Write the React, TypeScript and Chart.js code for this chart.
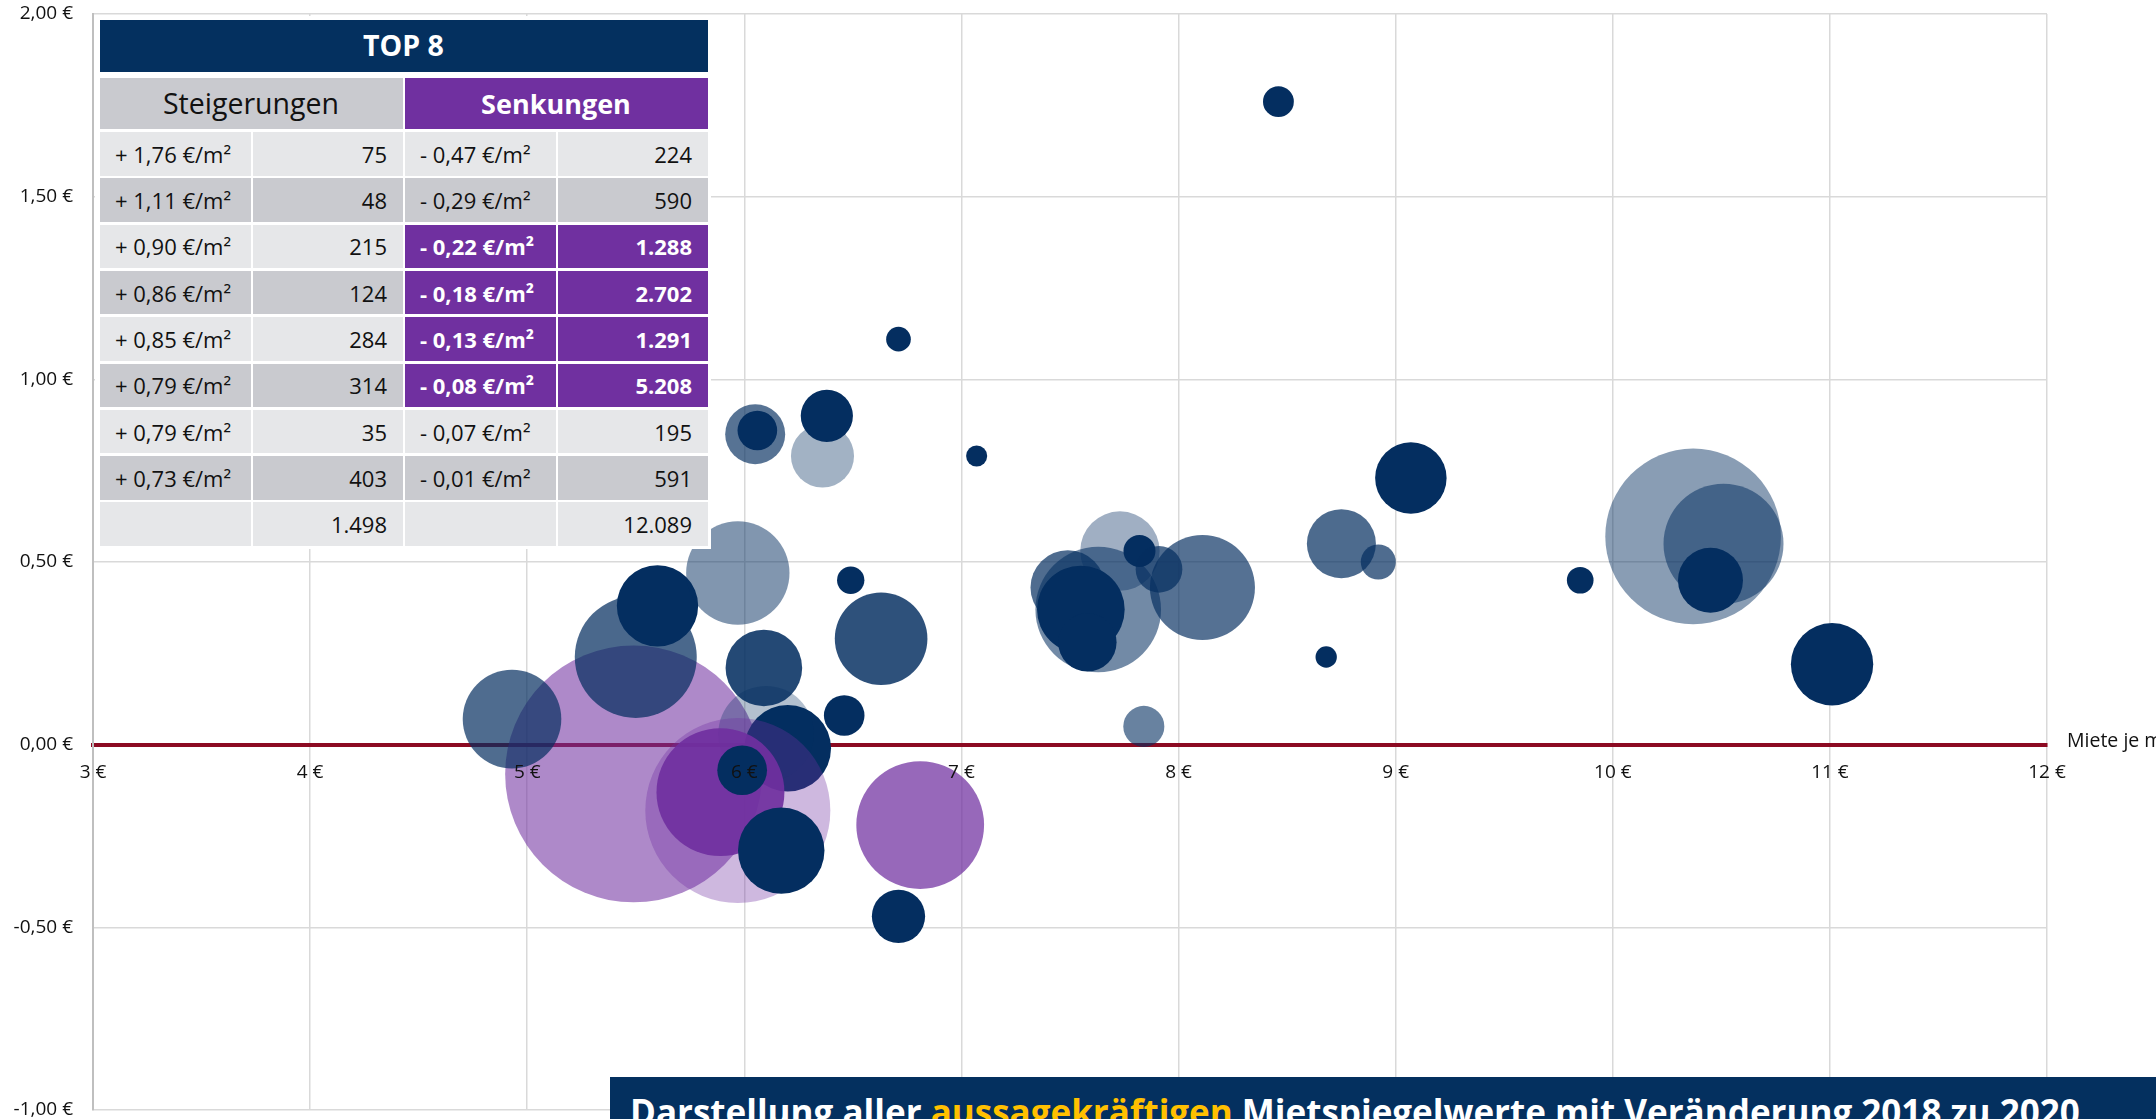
import React, { useEffect, useRef } from "react";
import { Chart, registerables } from "chart.js";

Chart.register(...registerables);

// ---------- Bubble data (Miete je m² / Veränderung 2018→2020 / Anzahl) ----------
const RENT = [
  5.49, 4.93, 5.50, 5.60, 5.97, 6.20, 6.09, 6.10, 5.97, 5.89,
  5.99, 6.17, 6.46, 6.49, 6.63, 6.81, 6.71, 6.05, 6.06, 6.36,
  6.38, 6.71, 7.07, 8.46, 7.73, 7.49, 7.63, 7.55, 7.58, 7.82,
  7.91, 8.11, 7.84, 8.75, 8.92, 8.68, 9.07, 9.85, 10.37, 10.51,
  10.45, 11.01,
];
const CHANGE = [
  -0.08, 0.07, 0.24, 0.38, 0.47, -0.01, 0.21, 0.03, -0.18, -0.13,
  -0.07, -0.29, 0.08, 0.45, 0.29, -0.22, -0.47, 0.85, 0.86, 0.79,
  0.90, 1.11, 0.79, 1.76, 0.53, 0.43, 0.37, 0.37, 0.28, 0.53,
  0.48, 0.43, 0.05, 0.55, 0.50, 0.24, 0.73, 0.45, 0.57, 0.55,
  0.45, 0.22,
];
const COUNT = [
  5208, 767, 1174, 522, 843, 591, 463, 720, 2702, 1291,
  195, 590, 130, 59, 677, 1288, 224, 284, 124, 314,
  215, 48, 35, 75, 497, 440, 1245, 606, 269, 81,
  172, 870, 133, 376, 97, 36, 403, 56, 2434, 1136,
  333, 535,
];
// highlighted (purple) = the marked decreases in the TOP 8 table
const HIGHLIGHT = [
  true, false, false, false, false, false, false, false, true, true,
  false, false, false, false, false, true, false, false, false, false,
  false, false, false, false, false, false, false, false, false, false,
  false, false, false, false, false, false, false, false, false, false,
  false, false,
];
// fill opacity of each bubble (style)
const OPACITY = [
  0.57, 0.70, 0.72, 1, 0.50, 1, 0.87, 0.30, 0.34, 0.92,
  1, 1, 1, 1, 0.83, 0.73, 1, 0.67, 1, 0.37,
  1, 1, 1, 1, 0.38, 0.70, 0.56, 1, 1, 1,
  0.70, 0.68, 0.60, 0.71, 0.70, 1, 1, 1, 0.47, 0.52,
  1, 1,
];

const X_TICKS = [3, 4, 5, 6, 7, 8, 9, 10, 11, 12];
const Y_TICKS = [-1, -0.5, 0, 0.5, 1, 1.5, 2];

// ---------- TOP 8 table ----------
const UP_CHANGE = [1.76, 1.11, 0.9, 0.86, 0.85, 0.79, 0.79, 0.73];
const UP_COUNT = [75, 48, 215, 124, 284, 314, 35, 403];
const DOWN_CHANGE = [-0.47, -0.29, -0.22, -0.18, -0.13, -0.08, -0.07, -0.01];
const DOWN_COUNT = [224, 590, 1288, 2702, 1291, 5208, 195, 591];
const DOWN_MARKED = [false, false, true, true, true, true, false, false];

const NAVY = [4, 46, 96];
const PURPLE = [112, 48, 160];
const HEAD_NAVY = "#04305f";
const PURPLE_HEX = "#7030a0";
const GREY_DARK = "#c9cacf";
const GREY_LIGHT = "#e6e7e9";
const FONT = "'Open Sans', 'Noto Sans', sans-serif";
const R_PER_SQRT = 1.78;

const fmtInt = (n: number) => String(n).replace(/\B(?=(\d{3})+(?!\d))/g, ".");
const fmtChange = (v: number) =>
  (v >= 0 ? "+ " : "- ") + Math.abs(v).toFixed(2).replace(".", ",") + " €/m²";

function Cell(props: {
  col: number;
  row: number;
  span?: number;
  h?: number;
  top?: number;
  bg: string;
  color?: string;
  bold?: boolean;
  align: "left" | "right" | "center";
  size?: number;
  children?: React.ReactNode;
}) {
  const colW = 150.5;
  const step = 152.5;
  const left = 100 + props.col * step;
  const span = props.span ?? 1;
  const width = colW + (span - 1) * step;
  const top = props.top ?? 132 + props.row * 46.3;
  const height = props.h ?? 43.6;
  return (
    <div
      style={{
        position: "absolute",
        left,
        top,
        width,
        height,
        background: props.bg,
        color: props.color ?? "#111",
        fontWeight: props.bold ? 700 : 400,
        fontSize: props.size ?? 22,
        fontFamily: FONT,
        display: "flex",
        alignItems: "center",
        justifyContent:
          props.align === "left" ? "flex-start" : props.align === "right" ? "flex-end" : "center",
        padding: "0 16px 0 15px",
        boxSizing: "border-box",
        whiteSpace: "nowrap",
        lineHeight: 1,
      }}
    >
      {props.children}
    </div>
  );
}

export default function App() {
  const ref = useRef<HTMLCanvasElement>(null);

  useEffect(() => {
    if (!ref.current) return;
    const points = RENT.map((x, i) => ({
      x,
      y: CHANGE[i],
      r: R_PER_SQRT * Math.sqrt(COUNT[i]),
    }));
    const colors = points.map((_, i) => {
      const c = HIGHLIGHT[i] ? PURPLE : NAVY;
      return `rgba(${c[0]},${c[1]},${c[2]},${OPACITY[i]})`;
    });
    const tickFont = { family: FONT, size: 19 };
    const chart = new Chart(ref.current, {
      type: "bubble",
      data: {
        datasets: [
          {
            data: points,
            backgroundColor: colors,
            borderWidth: 0,
            hoverBorderWidth: 0,
            hoverRadius: 0,
            clip: false as any,
          },
        ],
      },
      options: {
        responsive: false,
        animation: false,
        devicePixelRatio: 1,
        events: [],
        layout: { autoPadding: false, padding: { left: 0, top: 14, right: 109, bottom: 9 } },
        plugins: { legend: { display: false }, tooltip: { enabled: false } },
        scales: {
          x: {
            type: "linear",
            position: { y: 0 } as any,
            min: 3,
            max: 12,
            afterBuildTicks: (s: any) => {
              s.ticks = X_TICKS.map((value) => ({ value }));
            },
            grid: { color: "#d9d9d9", lineWidth: 1.5, drawTicks: false },
            border: { display: true, color: "#8c0a22", width: 4 },
            ticks: {
              padding: 17,
              font: tickFont,
              color: "#111",
              z: 1,
              autoSkip: false,
              maxRotation: 0,
              callback: (v: any) => `${v} €`,
            },
          },
          y: {
            type: "linear",
            position: "left",
            min: -1,
            max: 2,
            afterBuildTicks: (s: any) => {
              s.ticks = Y_TICKS.map((value) => ({ value }));
            },
            afterFit: (s: any) => {
              s.width = 93;
              s.paddingTop = 0;
              s.paddingBottom = 0;
            },
            grid: { color: "#d9d9d9", lineWidth: 1.5, drawTicks: false },
            border: { display: true, color: "#bfbfbf", width: 2 },
            ticks: {
              padding: 20,
              font: tickFont,
              color: "#111",
              callback: (v: any) => {
                const n = Number(v);
                return (n < 0 ? "-" : "") + Math.abs(n).toFixed(2).replace(".", ",") + " €";
              },
            },
          },
        },
      },
    });
    return () => chart.destroy();
  }, []);

  const upTotal = UP_COUNT.reduce((a, b) => a + b, 0);
  const downTotal = DOWN_COUNT.reduce((a, b) => a + b, 0);

  return (
    <div
      style={{
        position: "relative",
        width: 2156,
        height: 1119,
        overflow: "hidden",
        background: "#fff",
      }}
    >
      <style>{"html,body{margin:0;padding:0;overflow:hidden;background:#fff}"}</style>
      <canvas
        ref={ref}
        width={2156}
        height={1119}
        style={{ position: "absolute", left: 0, top: 0 }}
      />

      {/* axis title, cut off at the right edge */}
      <div
        style={{
          position: "absolute",
          left: 2067,
          top: 730,
          fontFamily: FONT,
          fontSize: 19.5,
          lineHeight: 1,
          color: "#111",
          whiteSpace: "nowrap",
        }}
      >
        Miete je m²
      </div>

      {/* TOP 8 table */}
      <div
        style={{
          position: "absolute",
          left: 95,
          top: 16,
          width: 616,
          height: 533,
          background: "#fff",
        }}
      />
      <Cell col={0} row={0} span={4} top={19.6} h={52} bg={HEAD_NAVY} color="#fff" bold align="center" size={28.5}>
        TOP 8
      </Cell>
      <Cell col={0} row={0} span={2} top={78} h={51} bg={GREY_DARK} align="center" size={28.5}>
        Steigerungen
      </Cell>
      <Cell col={2} row={0} span={2} top={78} h={51} bg={PURPLE_HEX} color="#fff" bold align="center" size={27}>
        Senkungen
      </Cell>
      {UP_CHANGE.map((v, i) => {
        const bg = i % 2 === 0 ? GREY_LIGHT : GREY_DARK;
        const marked = DOWN_MARKED[i];
        const dbg = marked ? PURPLE_HEX : bg;
        const dcol = marked ? "#fff" : "#111";
        return (
          <React.Fragment key={i}>
            <Cell col={0} row={i} bg={bg} align="left">{fmtChange(v)}</Cell>
            <Cell col={1} row={i} bg={bg} align="right">{fmtInt(UP_COUNT[i])}</Cell>
            <Cell col={2} row={i} bg={dbg} color={dcol} bold={marked} align="left">
              {fmtChange(DOWN_CHANGE[i])}
            </Cell>
            <Cell col={3} row={i} bg={dbg} color={dcol} bold={marked} align="right">
              {fmtInt(DOWN_COUNT[i])}
            </Cell>
          </React.Fragment>
        );
      })}
      <Cell col={0} row={8} bg={GREY_LIGHT} align="left"></Cell>
      <Cell col={1} row={8} bg={GREY_LIGHT} align="right">{fmtInt(upTotal)}</Cell>
      <Cell col={2} row={8} bg={GREY_LIGHT} align="left"></Cell>
      <Cell col={3} row={8} bg={GREY_LIGHT} align="right">{fmtInt(downTotal)}</Cell>

      {/* bottom banner */}
      <div
        style={{
          position: "absolute",
          left: 610,
          top: 1077,
          width: 1546,
          height: 60,
          background: HEAD_NAVY,
          overflow: "hidden",
        }}
      >
        <div
          style={{
            position: "absolute",
            left: 20,
            top: 17,
            fontFamily: FONT,
            fontWeight: 700,
            fontSize: 35,
            lineHeight: 1,
            color: "#fff",
            whiteSpace: "nowrap",
          }}
        >
          Darstellung aller <span style={{ color: "#ffc000" }}>aussagekräftigen</span> Mietspiegelwerte mit
          Veränderung 2018 zu 2020
        </div>
      </div>
    </div>
  );
}
